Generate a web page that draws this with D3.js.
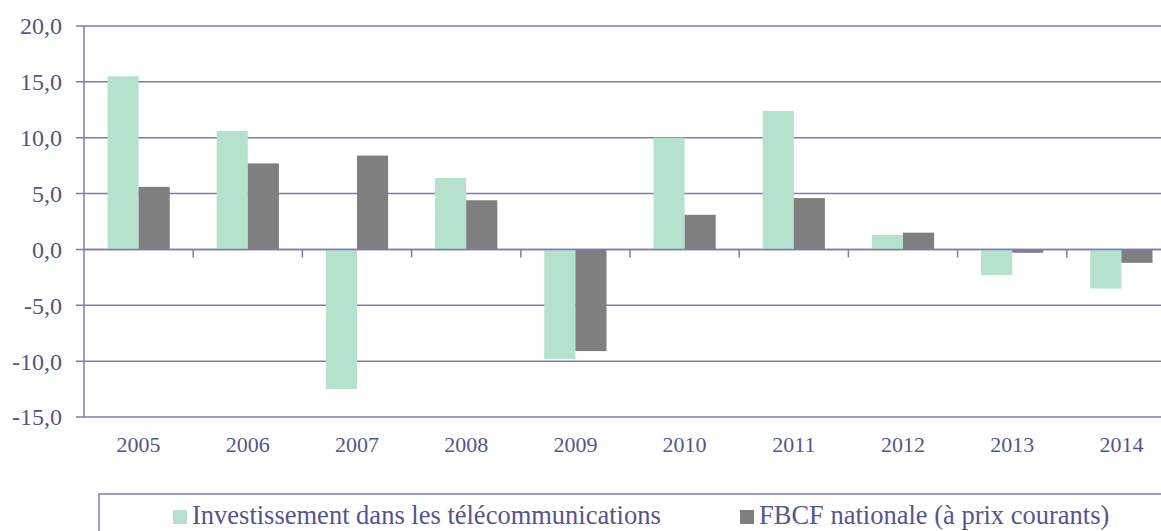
<!DOCTYPE html>
<html>
<head>
<meta charset="utf-8">
<script src="https://cdn.jsdelivr.net/npm/d3@7"></script>
<style>
  body { margin: 0; background: #fff; }
  svg { display: block; }
  text { font-family: "Liberation Serif", "DejaVu Serif", serif; fill: #55558e; }
</style>
</head>
<body>
<div id="chart"></div>
<script>
// data
const years = ["2005", "2006", "2007", "2008", "2009", "2010", "2011", "2012", "2013", "2014"];
const telecom = [15.5, 10.6, -12.5, 6.4, -9.8, 10.0, 12.4, 1.3, -2.3, -3.5];
const fbcf = [5.6, 7.7, 8.4, 4.4, -9.1, 3.1, 4.6, 1.5, -0.3, -1.2];
const seriesNames = ["Investissement dans les télécommunications", "FBCF nationale (à prix courants)"];
const seriesColors = ["#b5e2cc", "#7f7f7f"];
const yTicks = [20, 15, 10, 5, 0, -5, -10, -15];

const width = 1161, height = 531;
const lineColor = "#7c7cb2";

const svg = d3.select("#chart").append("svg")
    .attr("width", width)
    .attr("height", height);

// plot area (runs past the right edge like the original)
const plotLeft = 84, plotRight = 1176, plotTop = 26, plotBottom = 417;

const x = d3.scaleBand().domain(years).range([plotLeft, plotRight]);
const inner = d3.scaleBand().domain([0, 1]).range([0, x.bandwidth()]).paddingOuter(0.755);
const y = d3.scaleLinear().domain([-15, 20]).range([plotBottom, plotTop]);

// horizontal gridlines
svg.append("g").selectAll("line").data(yTicks).join("line")
    .attr("x1", plotLeft - 8).attr("x2", width)
    .attr("y1", d => y(d)).attr("y2", d => y(d))
    .attr("stroke", lineColor).attr("stroke-width", 1.5);

// y axis line
svg.append("line")
    .attr("x1", plotLeft).attr("x2", plotLeft)
    .attr("y1", plotTop).attr("y2", plotBottom)
    .attr("stroke", lineColor).attr("stroke-width", 1.5);

// y labels
svg.append("g").selectAll("text").data(yTicks).join("text")
    .attr("x", 62).attr("y", d => y(d))
    .attr("dy", "0.35em")
    .attr("text-anchor", "end")
    .style("font-size", "24px")
    .text(d => d3.format(".1f")(d).replace(".", ",").replace("−", "-"));

// bars
const groups = svg.append("g").selectAll("g").data(years).join("g")
    .attr("transform", d => `translate(${x(d)},0)`);

groups.selectAll("rect")
    .data((d, i) => [telecom[i], fbcf[i]].map((v, k) => ({ k, v })))
    .join("rect")
    .attr("x", d => inner(d.k))
    .attr("width", inner.bandwidth())
    .attr("y", d => y(Math.max(0, d.v)))
    .attr("height", d => Math.abs(y(d.v) - y(0)))
    .attr("fill", d => seriesColors[d.k]);

// category axis at zero with ticks between categories
svg.append("line")
    .attr("x1", plotLeft).attr("x2", width)
    .attr("y1", y(0)).attr("y2", y(0))
    .attr("stroke", lineColor).attr("stroke-width", 1.5);

svg.append("g").selectAll("line").data(years.slice(1)).join("line")
    .attr("x1", d => x(d)).attr("x2", d => x(d))
    .attr("y1", y(0)).attr("y2", y(0) + 8)
    .attr("stroke", lineColor).attr("stroke-width", 1.5);

// x labels
svg.append("g").selectAll("text").data(years).join("text")
    .attr("x", d => x(d) + x.bandwidth() / 2)
    .attr("y", 452)
    .attr("text-anchor", "middle")
    .style("font-size", "22px")
    .text(d => d);

// legend
svg.append("rect")
    .attr("x", 99).attr("y", 494)
    .attr("width", 1100).attr("height", 80)
    .attr("fill", "none")
    .attr("stroke", lineColor).attr("stroke-width", 1.5);

const legendX = [173, 740];
const legend = svg.append("g").selectAll("g").data(seriesNames).join("g")
    .attr("transform", (d, i) => `translate(${legendX[i]},0)`);

legend.append("rect")
    .attr("x", 0).attr("y", 510)
    .attr("width", 14).attr("height", 14)
    .attr("fill", (d, i) => seriesColors[i]);

legend.append("text")
    .attr("x", 19).attr("y", 524)
    .style("font-size", "26.5px")
    .text(d => d);
</script>
</body>
</html>
